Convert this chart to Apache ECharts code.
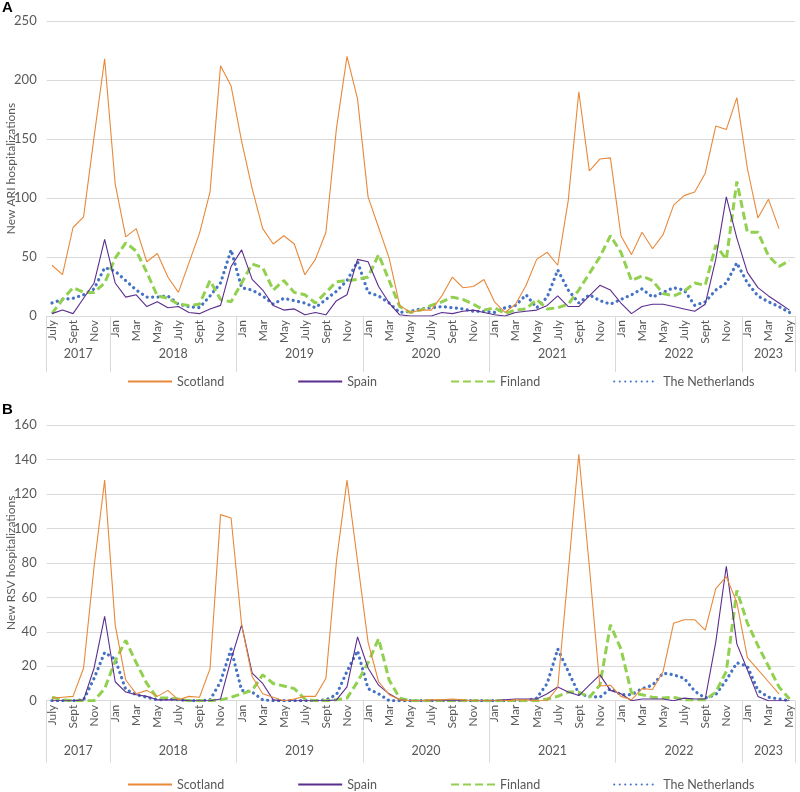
<!DOCTYPE html>
<html><head><meta charset="utf-8">
<script src="https://cdn.jsdelivr.net/npm/echarts@6/dist/echarts.min.js"></script>
<style>html,body{margin:0;padding:0;background:#fff}#c{width:800px;height:792px}</style>
</head><body><div id="c"></div>
<script>
// ---- data ----
const years = [2017, 2018, 2019, 2020, 2021, 2022, 2023];
const monthsInYear = [6, 12, 12, 12, 12, 12, 5];
const firstMonthOfYear = [6, 0, 0, 0, 0, 0, 0];
const monthNames = ['Jan','Feb','Mar','Apr','May','June','July','Aug','Sept','Oct','Nov','Dec'];
const seriesNames = ['Scotland', 'Spain', 'Finland', 'The Netherlands'];

// Panel A: new ARI hospitalizations (Jul 2017 .. May 2023)
const ariScotland = [43,35,75,84,152,218,112,67,74,46,53,33,20,45,70,105,212,195,148,108,74,61,68,61,35,48,71,159,220,184,101,75,49,9,3,5,5,17,33,24,25,31,12,3,10,26,48,54,43,98,190,123,133,134,68,52,71,57,69,94,102,105,121,161,158,185,125,83,99,74,null];
const ariSpain = [2,5,2,15,28,65,28,16,18,8,12,7,8,3,2,6,9,42,56,31,22,9,5,6,1,3,1,13,18,48,46,25,11,1,0,0,0,3,2,4,5,3,1,0,3,4,5,9,17,8,8,17,26,22,11,2,8,10,10,8,6,4,10,48,101,66,37,24,17,11,5];
const ariFinland = [2,14,24,20,20,28,49,62,55,37,17,15,10,9,10,30,14,12,28,44,41,22,30,20,18,11,20,29,30,31,33,52,30,8,3,5,9,12,16,14,10,5,7,2,5,6,14,6,7,10,22,36,50,68,54,30,34,30,19,17,21,28,26,60,48,114,71,71,51,42,47];
const ariNetherlands = [11,14,15,18,23,41,38,30,22,16,16,17,10,8,7,17,28,56,24,22,17,10,15,13,11,7,14,21,30,46,20,17,11,3,4,6,7,8,7,6,4,4,3,7,9,18,7,16,39,22,11,18,13,10,14,18,23,16,20,24,22,9,12,22,28,45,28,17,12,8,3];

// Panel B: new RSV hospitalizations (Jul 2017 .. May 2023)
const rsvScotland = [1.5,2,2.5,19,78,128,44,12,4,6,2.5,6,0.5,2.5,2,18.5,108,106,44,14,4,2,0,1,2.5,2.5,13,81,128,81,34,11,3.5,0.5,0,0,0.5,0.5,1,0.5,0,0,0,0,0.5,0.5,0,0,7.5,75,143,78,8.5,9,2.5,0.5,7,6.5,17,45,47,47,41,65,72,57,25,18,11,4,null];
const rsvSpain = [0,0,0,0.5,19,49,11,5,3.5,2.5,0.5,0.5,0.5,0,0,0,1,24,44,16,10,0.5,0,0,0,0,0,0.5,8,37,19,9,4,0.5,0,0,0,0,0,0,0,0,0,0.5,1,1,1,4,8,5,3,9,15,6,4,0,1,1,1,0,1.5,1,1,34,78,33,18,2.5,0,0,0];
const rsvFinland = [2,0.5,0,0,0,7,23,35,22,10,1.5,1.5,1,0,0,0,0.5,2,4,6,15,10,8.5,7,1,0,0,0.5,1.5,11,22,36,12,1.5,0,0,0,0,0,0,0,0,0,0,0,0,0,1,2.5,5,5,2,9,44,30,4.5,3.5,2,1.5,2,0.5,0.5,0.5,5,17,64,45,32,20,8,1];
const rsvNetherlands = [0,0,0,0.5,13,28,24,6.5,3.5,2,0.5,1,0.5,0,0,0.5,11,30,6,5,0.5,0,0,0,0,0,0.5,3.5,17,29,7,4,0,0,0,0,0,0,0,0,0,0,0,0,0,0,1.5,10,30,17,4,2.5,2,7,3.5,3.5,7,9,16,15,13,5.5,1.5,3.5,12,22,20,6,2,1,0];

// ---- derived axis helpers ----
const categories = [];
const yearStart = [];
years.forEach((y, k) => {
  yearStart.push(categories.length);
  for (let m = 0; m < monthsInYear[k]; m++) categories.push(monthNames[firstMonthOfYear[k] + m]);
});
const nCat = categories.length;
const yearBoundaries = yearStart.map(s => s - 0.5).concat([nCat - 0.5]);
const yearCenters = yearStart.map((s, k) => s - 0.5 + monthsInYear[k] / 2);
const yearLabelAt = {};
yearCenters.forEach((c, k) => { yearLabelAt[c.toFixed(2)] = String(years[k]); });

const FONT = 'Lato';
const GREY = '#595959';
const GRID_LINE = '#d9d9d9';
const colors = ['#E8893A', '#5B2D8E', '#92D050', '#4472C4'];
const styles = [
  { width: 1.1, type: 'solid' },
  { width: 1.1, type: 'solid' },
  { width: 3, type: [8, 4] },
  { width: 3.2, type: [0.1, 5.4], cap: 'round' }
];

function monthAxis(gridIndex) {
  return {
    type: 'category', gridIndex, data: categories, boundaryGap: true,
    axisLine: { show: true, lineStyle: { color: GRID_LINE, width: 1 } },
    axisTick: { show: false },
    axisLabel: { interval: 1, rotate: 90, fontSize: 12, color: GREY, fontFamily: FONT, margin: 4 },
    splitLine: { show: false }
  };
}
function yearAxis(gridIndex, tickLen, labelMargin) {
  return {
    type: 'value', gridIndex, min: -0.5, max: nCat - 0.5, position: 'bottom',
    axisLine: { show: false },
    splitLine: { show: false },
    axisTick: { show: true, customValues: yearBoundaries, length: tickLen, lineStyle: { color: GRID_LINE, width: 1 } },
    axisLabel: {
      show: true, customValues: yearCenters, margin: labelMargin,
      fontSize: 12.5, color: GREY, fontFamily: FONT,
      formatter: v => yearLabelAt[Number(v).toFixed(2)] || ''
    }
  };
}
function valueAxis(gridIndex, max, interval, name) {
  return {
    type: 'value', gridIndex, min: 0, max, interval,
    name, nameLocation: 'middle', nameGap: 30, nameMoveOverlap: false,
    nameTextStyle: { fontSize: 12, color: GREY, fontFamily: FONT },
    axisLine: { show: false }, axisTick: { show: false },
    axisLabel: { fontSize: 13, color: GREY, fontFamily: FONT, margin: 10 },
    splitLine: { show: true, lineStyle: { color: GRID_LINE, width: 1 } }
  };
}
function makeSeries(name, data, k, xIdx, yIdx) {
  return {
    name, type: 'line', data, xAxisIndex: xIdx, yAxisIndex: yIdx,
    symbol: 'none', showSymbol: false, smooth: false, connectNulls: false,
    lineStyle: Object.assign({ color: colors[k] }, styles[k]),
    itemStyle: { color: colors[k] },
    animation: false, z: 10 - k
  };
}
const seriesA = [ariScotland, ariSpain, ariFinland, ariNetherlands];
const seriesB = [rsvScotland, rsvSpain, rsvFinland, rsvNetherlands];

const legendBase = {
  data: seriesNames, itemWidth: 44, itemHeight: 12, itemGap: 73,
  itemStyle: { opacity: 0 },
  textStyle: { fontSize: 12.5, color: GREY, fontFamily: FONT }, left: 122, orient: 'horizontal'
};

const option = {
  animation: false,
  backgroundColor: '#ffffff',
  color: colors,
  title: [
    { text: 'A', left: 2, top: 0, padding: 0, textStyle: { fontSize: 15, fontWeight: 'bold', color: '#000', fontFamily: 'Liberation Sans' } },
    { text: 'B', left: 2, top: 402, padding: 0, textStyle: { fontSize: 15, fontWeight: 'bold', color: '#000', fontFamily: 'Liberation Sans' } }
  ],
  grid: [
    { left: 46.7, right: 5.2, top: 21, height: 295, outerBoundsMode: 'none', containLabel: false },
    { left: 46.7, right: 5.2, top: 425, height: 275.7, outerBoundsMode: 'none', containLabel: false }
  ],
  legend: [
    Object.assign({}, legendBase, { top: 370 }),
    Object.assign({}, legendBase, { top: 773 })
  ],
  xAxis: [monthAxis(0), yearAxis(0, 56, 31), monthAxis(1), yearAxis(1, 62, 44)],
  yAxis: [valueAxis(0, 250, 50, 'New ARI hospitalizations'), valueAxis(1, 160, 20, 'New RSV hospitalizations')],
  series: [].concat(
    seriesA.map((d, k) => makeSeries(seriesNames[k], d, k, 0, 0)),
    seriesB.map((d, k) => makeSeries(seriesNames[k], d, k, 2, 1))
  )
};
const chart = echarts.init(document.getElementById('c'), null, { renderer: 'canvas' });
chart.setOption(option);
</script></body></html>
